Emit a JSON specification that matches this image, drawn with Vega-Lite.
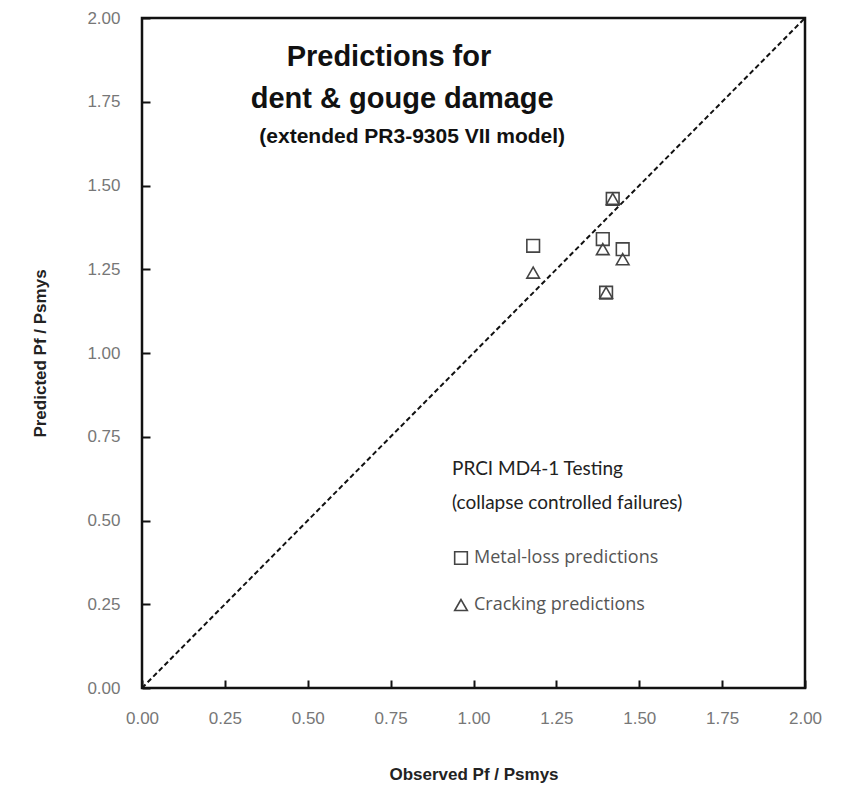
{
  "$schema": "https://vega.github.io/schema/vega-lite/v6.json",
  "width": 663,
  "height": 670,
  "autosize": {"type": "none"},
  "padding": {"left": 142, "top": 18, "right": 39, "bottom": 102},
  "background": "white",
  "config": {
    "view": {"stroke": "#111", "strokeWidth": 2.5},
    "axis": {
      "grid": false,
      "domain": false,
      "tickColor": "#111",
      "tickWidth": 2,
      "tickSize": -8,
      "labelFlush": false,
      "labelFont": "Liberation Sans",
      "labelFontSize": 17,
      "labelColor": "#777",
      "titleFont": "Liberation Sans",
      "titleFontSize": 17,
      "titleFontWeight": "bold",
      "titleColor": "#222"
    }
  },
  "datasets": {
    "points": [
      {"observed": 1.18, "predicted": 1.32, "series": "Metal-loss predictions"},
      {"observed": 1.39, "predicted": 1.34, "series": "Metal-loss predictions"},
      {"observed": 1.45, "predicted": 1.31, "series": "Metal-loss predictions"},
      {"observed": 1.40, "predicted": 1.18, "series": "Metal-loss predictions"},
      {"observed": 1.42, "predicted": 1.46, "series": "Metal-loss predictions"},
      {"observed": 1.18, "predicted": 1.24, "series": "Cracking predictions"},
      {"observed": 1.39, "predicted": 1.31, "series": "Cracking predictions"},
      {"observed": 1.45, "predicted": 1.28, "series": "Cracking predictions"},
      {"observed": 1.40, "predicted": 1.18, "series": "Cracking predictions"},
      {"observed": 1.42, "predicted": 1.46, "series": "Cracking predictions"}
    ],
    "diagonal": [
      {"observed": 0, "predicted": 0},
      {"observed": 2, "predicted": 2}
    ],
    "one": [{}]
  },
  "layer": [
    {
      "data": {"name": "diagonal"},
      "mark": {"type": "line", "color": "#111", "strokeWidth": 2, "strokeDash": [5, 3]},
      "encoding": {
        "x": {"field": "observed", "type": "quantitative"},
        "y": {"field": "predicted", "type": "quantitative"}
      }
    },
    {
      "data": {"name": "points"},
      "mark": {"type": "point", "filled": false, "strokeWidth": 1.6, "size": 160, "color": "#444", "opacity": 1},
      "encoding": {
        "x": {
          "field": "observed", "type": "quantitative",
          "scale": {"domain": [0, 2], "nice": false, "zero": false},
          "axis": {"values": [0, 0.25, 0.5, 0.75, 1, 1.25, 1.5, 1.75, 2], "format": ".2f", "labelPadding": 30, "title": "Observed Pf / Psmys", "titlePadding": 40}
        },
        "y": {
          "field": "predicted", "type": "quantitative",
          "scale": {"domain": [0, 2], "nice": false, "zero": false},
          "axis": {"values": [0, 0.25, 0.5, 0.75, 1, 1.25, 1.5, 1.75, 2], "format": ".2f", "labelPadding": 30, "title": "Predicted Pf / Psmys", "titlePadding": 37}
        },
        "shape": {
          "field": "series", "type": "nominal",
          "scale": {"domain": ["Metal-loss predictions", "Cracking predictions"], "range": ["square", "triangle-up"]},
          "legend": {
            "title": ["PRCI MD4-1 Testing", "(collapse controlled failures)"],
            "orient": "none",
            "legendX": 310,
            "legendY": 442,
            "padding": 0,
            "titleFont": "Lato",
            "titleFontSize": 19,
            "titleFontWeight": "normal",
            "titleColor": "#222",
            "titleLineHeight": 34,
            "titlePadding": 36,
            "titleLimit": 0,
            "labelLimit": 0,
            "labelFont": "Open Sans",
            "labelFontSize": 18,
            "labelColor": "#555",
            "labelOffset": 4,
            "rowPadding": 28,
            "symbolSize": 160,
            "symbolStrokeColor": "#444",
            "symbolStrokeWidth": 1.6,
            "symbolFillColor": "transparent"
          }
        }
      }
    },
    {
      "data": {"name": "one"},
      "mark": {"type": "text", "font": "Liberation Sans", "fontSize": 29, "fontWeight": "bold", "color": "#111", "align": "center", "baseline": "middle"},
      "encoding": {
        "x": {"datum": 0.745, "type": "quantitative"},
        "y": {"datum": 1.885, "type": "quantitative"},
        "text": {"value": "Predictions for"}
      }
    },
    {
      "data": {"name": "one"},
      "mark": {"type": "text", "font": "Liberation Sans", "fontSize": 29, "fontWeight": "bold", "color": "#111", "align": "center", "baseline": "middle"},
      "encoding": {
        "x": {"datum": 0.785, "type": "quantitative"},
        "y": {"datum": 1.757, "type": "quantitative"},
        "text": {"value": "dent & gouge damage"}
      }
    },
    {
      "data": {"name": "one"},
      "mark": {"type": "text", "font": "Liberation Sans", "fontSize": 21, "fontWeight": "bold", "color": "#111", "align": "center", "baseline": "middle"},
      "encoding": {
        "x": {"datum": 0.815, "type": "quantitative"},
        "y": {"datum": 1.645, "type": "quantitative"},
        "text": {"value": "(extended PR3-9305 VII model)"}
      }
    }
  ]
}
